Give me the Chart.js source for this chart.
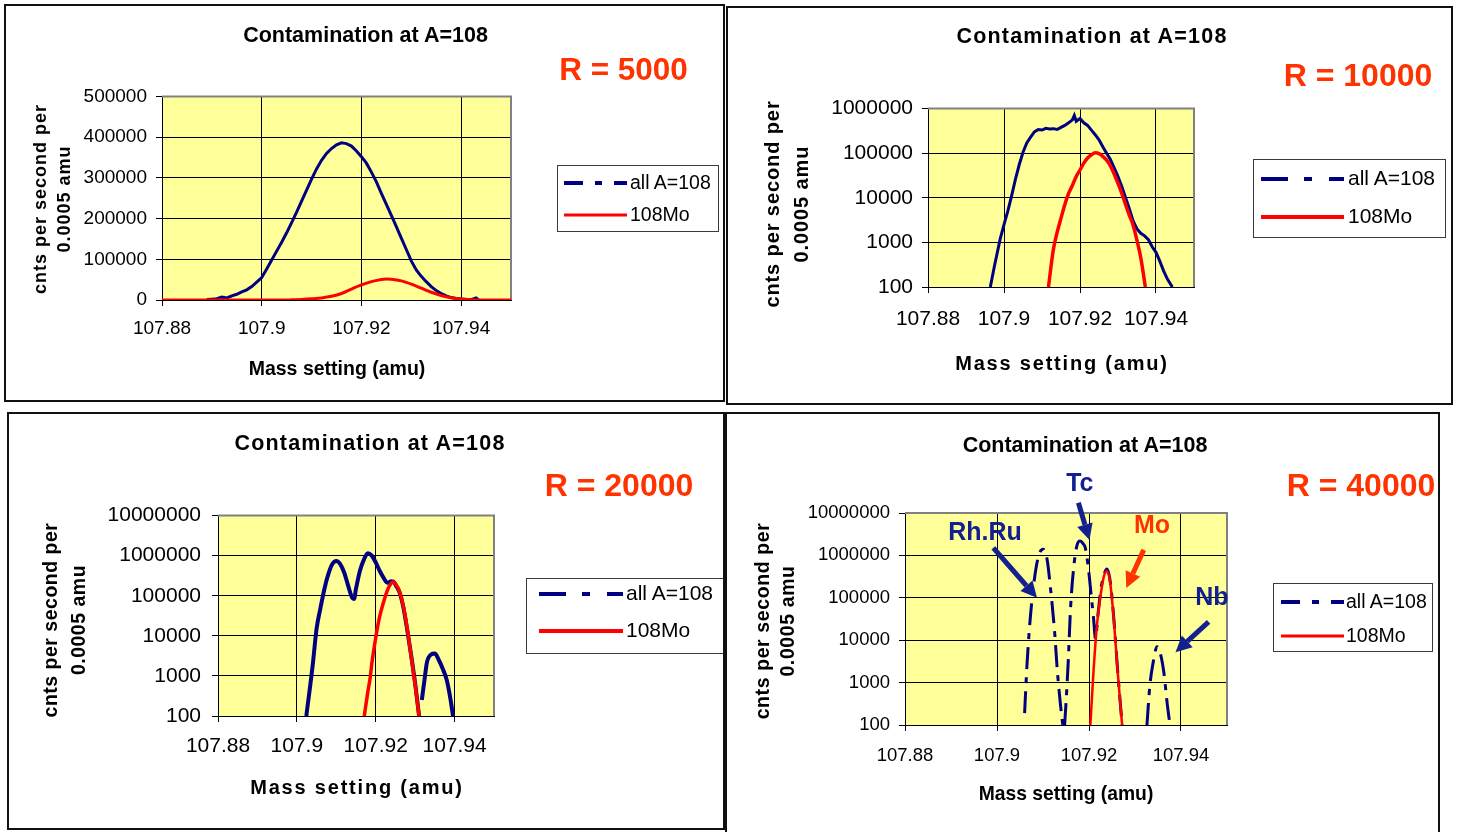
<!DOCTYPE html>
<html><head><meta charset="utf-8">
<script src="https://cdn.jsdelivr.net/npm/chart.js@4.4.1/dist/chart.umd.min.js"></script>
<style>
body{margin:0;background:#fff;width:1458px;height:832px;overflow:hidden;position:relative;font-family:"Liberation Sans",Arial,sans-serif}
.panel{position:absolute;border:2px solid #111;box-sizing:border-box;pointer-events:none}
.t{position:absolute;white-space:nowrap;transform:translate(-50%,-50%);font-weight:bold;color:#000}
.r{color:#FF3300}
.yt{position:absolute;white-space:nowrap;transform:translate(-50%,-50%) rotate(-90deg);font-weight:bold;text-align:center;color:#000}
.leg{position:absolute;border:1px solid #3a3a3a;background:#fff;box-sizing:border-box}
.lt{position:absolute;white-space:nowrap;transform:translateY(-50%);color:#000}
canvas{position:absolute}
</style></head><body>

<div class="leg" style="left:557px;top:165px;width:162px;height:67px"></div>
<div class="leg" style="left:1253px;top:159px;width:193px;height:79px"></div>
<div class="leg" style="left:526px;top:578px;width:201px;height:76px"></div>
<div class="leg" style="left:1273px;top:583px;width:160px;height:69px"></div>

<canvas id="c1"></canvas>
<canvas id="c2"></canvas>
<canvas id="c3"></canvas>
<canvas id="c4"></canvas>

<svg style="position:absolute;left:0;top:0" width="1458" height="832">
  <line x1="564" y1="183" x2="627" y2="183" stroke="#000080" stroke-width="4" stroke-dasharray="19 12 7 12"/>
  <line x1="564" y1="215" x2="627" y2="215" stroke="#FF0000" stroke-width="3"/>
  <line x1="1261" y1="179" x2="1344" y2="179" stroke="#000080" stroke-width="4" stroke-dasharray="27 16 8 17"/>
  <line x1="1261" y1="217" x2="1344" y2="217" stroke="#FF0000" stroke-width="4"/>
  <line x1="539" y1="594" x2="623" y2="594" stroke="#000080" stroke-width="4" stroke-dasharray="27 16 8 17"/>
  <line x1="539" y1="631" x2="623" y2="631" stroke="#FF0000" stroke-width="4"/>
  <line x1="1281" y1="602" x2="1344" y2="602" stroke="#000080" stroke-width="4" stroke-dasharray="19 12 7 12"/>
  <line x1="1281" y1="636" x2="1344" y2="636" stroke="#FF0000" stroke-width="3"/>
</svg>

<div class="lt" style="left:630px;top:182px;font-size:19.5px">all A=108</div>
<div class="lt" style="left:630px;top:214px;font-size:19.5px">108Mo</div>
<div class="lt" style="left:1348px;top:178px;font-size:21px">all A=108</div>
<div class="lt" style="left:1348px;top:216px;font-size:21px">108Mo</div>
<div class="lt" style="left:626px;top:593px;font-size:21px">all A=108</div>
<div class="lt" style="left:626px;top:630px;font-size:21px">108Mo</div>
<div class="lt" style="left:1346px;top:601px;font-size:19.5px">all A=108</div>
<div class="lt" style="left:1346px;top:635px;font-size:19.5px">108Mo</div>

<div class="t" style="left:365.5px;top:34.5px;font-size:21.5px">Contamination at A=108</div>
<div class="t" style="left:1092px;top:36px;font-size:21.5px;letter-spacing:1.2px">Contamination at A=108</div>
<div class="t" style="left:370px;top:442.5px;font-size:21.5px;letter-spacing:1.2px">Contamination at A=108</div>
<div class="t" style="left:1085px;top:445px;font-size:21.5px">Contamination at A=108</div>

<div class="t r" style="left:623.5px;top:68.5px;font-size:31.5px">R = 5000</div>
<div class="t r" style="left:1358px;top:74.5px;font-size:32px">R = 10000</div>
<div class="t r" style="left:619px;top:485px;font-size:32px">R = 20000</div>
<div class="t r" style="left:1361px;top:485px;font-size:32px">R = 40000</div>

<div class="t" style="left:337px;top:368px;font-size:19.5px">Mass setting (amu)</div>
<div class="t" style="left:1062px;top:363px;font-size:20px;letter-spacing:1.8px">Mass setting (amu)</div>
<div class="t" style="left:357px;top:786.5px;font-size:20px;letter-spacing:1.8px">Mass setting (amu)</div>
<div class="t" style="left:1066px;top:794px;font-size:19.3px">Mass setting (amu)</div>

<div class="yt" style="left:51.5px;top:199px;font-size:18px;letter-spacing:1px;line-height:24px">cnts per second per<br>0.0005 amu</div>
<div class="yt" style="left:787px;top:204px;font-size:20px;letter-spacing:0.9px;line-height:29px">cnts per second per<br>0.0005 amu</div>
<div class="yt" style="left:64px;top:620px;font-size:19.5px;letter-spacing:0.5px;line-height:28px">cnts per second per<br>0.0005 amu</div>
<div class="yt" style="left:774.5px;top:621px;font-size:19.5px;letter-spacing:0.6px;line-height:25px">cnts per second per<br>0.0005 amu</div>

<div class="panel" style="left:4px;top:4px;width:721px;height:398px"></div>
<div class="panel" style="left:726px;top:6px;width:727px;height:399px"></div>
<div class="panel" style="left:7px;top:412px;width:718px;height:418px"></div>
<div class="panel" style="left:725px;top:412px;width:715px;height:430px"></div>

<script>
// ---------- tick values / labels ----------
const xTickValues = [107.88, 107.9, 107.92, 107.94];
const xTickLabels = ['107.88', '107.9', '107.92', '107.94'];
const linTickValues = [0, 100000, 200000, 300000, 400000, 500000];
const linTickLabels = ['0', '100000', '200000', '300000', '400000', '500000'];
const log6TickValues = [100, 1000, 10000, 100000, 1000000];
const log6TickLabels = ['100', '1000', '10000', '100000', '1000000'];
const log7TickValues = [100, 1000, 10000, 100000, 1000000, 10000000];
const log7TickLabels = ['100', '1000', '10000', '100000', '1000000', '10000000'];

// ---------- R = 5000 ----------
const p1AllX = [107.889,107.890,107.891,107.892,107.893,107.894,107.895,107.896,107.897,107.898,107.899,107.900,107.901,107.902,107.903,107.904,107.905,107.906,107.907,107.908,107.909,107.910,107.911,107.912,107.913,107.914,107.915,107.916,107.917,107.918,107.919,107.920,107.921,107.922,107.923,107.924,107.925,107.926,107.927,107.928,107.929,107.930,107.931,107.932,107.933,107.934,107.935,107.936,107.937,107.938,107.939,107.940,107.941,107.942,107.943,107.9435];
const p1AllY = [1000,2000,3000,7000,5000,10000,14000,20000,25000,33000,44000,55000,76000,98000,120000,142000,165000,190000,216000,243000,270000,297000,322000,343000,360000,372000,381000,386000,384000,378000,366000,352000,336000,314000,290000,262000,235000,208000,180000,152000,124000,96000,74000,58000,45000,33000,23000,16000,10000,6000,4000,2500,1500,800,5000,0];
const p1MoX = [107.880,107.905,107.906,107.908,107.910,107.912,107.914,107.916,107.918,107.920,107.922,107.924,107.925,107.926,107.928,107.930,107.932,107.934,107.936,107.938,107.940,107.942,107.944,107.950];
const p1MoY = [0,0,500,1500,3000,5000,9000,16000,27000,37000,45000,50500,51500,51000,47000,39000,29000,19000,11000,5500,2200,700,0,0];

// ---------- R = 10000 ----------
const p2AllX = [107.8964,107.8975,107.899,107.900,107.901,107.902,107.903,107.904,107.905,107.906,107.907,107.908,107.909,107.910,107.911,107.912,107.913,107.914,107.915,107.916,107.917,107.918,107.9185,107.919,107.920,107.921,107.922,107.923,107.924,107.925,107.926,107.927,107.928,107.929,107.930,107.931,107.932,107.933,107.934,107.935,107.936,107.937,107.938,107.939,107.940,107.941,107.942,107.943,107.9443];
const p2AllY = [100,300,1200,2500,5000,11000,26000,55000,105000,170000,230000,300000,340000,330000,360000,350000,355000,340000,380000,420000,480000,560000,700000,520000,600000,480000,420000,330000,260000,200000,140000,100000,72000,47000,30000,18000,10000,5600,3000,2000,1600,1400,1150,800,600,380,230,150,100];
const p2MoX = [107.9117,107.913,107.914,107.915,107.916,107.917,107.918,107.919,107.920,107.921,107.922,107.923,107.924,107.925,107.926,107.927,107.928,107.929,107.930,107.931,107.932,107.933,107.934,107.935,107.936,107.9372];
const p2MoY = [100,700,1700,3500,7000,12500,19000,30000,42000,60000,78000,92000,102000,98000,85000,70000,52000,34000,21000,12500,7000,4000,2400,1100,450,100];

// ---------- R = 20000 ----------
const p3AllX = [107.9024,107.904,107.905,107.906,107.907,107.908,107.909,107.910,107.911,107.912,107.913,107.914,107.9145,107.915,107.916,107.917,107.918,107.919,107.920,107.921,107.922,107.923,107.924,107.9248,107.925,107.926,107.927,107.928,107.929,107.930,107.931,107.9313,107.9317,107.9325,107.933,107.934,107.935,107.936,107.937,107.938,107.939,107.9396];
const p3AllY = [100,1800,15000,50000,150000,350000,620000,740000,620000,380000,180000,90000,83000,150000,420000,800000,1150000,1000000,680000,420000,280000,210000,230000,210000,190000,125000,52000,14000,3200,650,100,null,250,1000,2200,3400,3600,2500,1500,800,250,100];
const p3MoX = [107.9171,107.918,107.9186,107.919,107.920,107.921,107.922,107.923,107.924,107.9245,107.925,107.926,107.927,107.928,107.929,107.930,107.931];
const p3MoY = [100,400,910,2000,9000,30000,70000,140000,210000,220000,200000,130000,55000,15000,3000,600,100];

// ---------- R = 40000 ----------
const p4AllX = [107.906,107.9065,107.9072,107.9081,107.909,107.910,107.9109,107.9116,107.9125,107.9131,107.9138,107.9143,107.9145,107.9147,107.915,107.9155,107.916,107.9167,107.9174,107.9181,107.9187,107.9192,107.9199,107.9205,107.921,107.9214,107.922,107.9226,107.9232,107.9239,107.9246,107.9254,107.9262,107.9272,107.930,107.9326,107.9332,107.9339,107.9348,107.9355,107.9363,107.937,107.9376];
const p4AllY = [190,2400,30000,260000,940000,1400000,790000,180000,17000,2000,300,100,null,100,330,3400,60000,550000,1750000,2200000,1900000,1500000,460000,107000,32000,11000,45000,160000,330000,480000,250000,32000,2100,100,null,100,790,2800,7000,4900,1650,320,100];
const p4MoX = [107.9203,107.921,107.9217,107.9225,107.9232,107.9239,107.9246,107.9254,107.9262,107.9272];
const p4MoY = [100,2000,21000,110000,310000,430000,230000,30000,2000,100];

// ---------- annotations (data coordinates) for R = 40000 ----------
const annoText = ['Rh.Ru', 'Tc', 'Mo', 'Nb'];
const annoX = [107.8974, 107.918, 107.9337, 107.9467];
const annoY = [3.4e6, 4.7e7, 5.0e6, 1.0e5];
const arrowFromX = [107.8992, 107.9177, 107.9319, 107.946];
const arrowFromY = [1.5e6, 1.74e7, 1.35e6, 2.7e4];
const arrowToX = [107.9087, 107.9201, 107.9281, 107.9388];
const arrowToY = [1.0e5, 2.3e6, 1.7e5, 5.2e3];

const NAVY = '#000080', RED = '#FF0000', ORANGE = '#FF3300', ANNO_BLUE = '#13208f';
const annoColor = [ANNO_BLUE, ANNO_BLUE, ORANGE, ANNO_BLUE];
const FONT = '"Liberation Sans", Arial, sans-serif';

const pts = (xs, ys) => xs.map((x, i) => ({x: x, y: ys[i]}));

const areaPlugin = {
  id: 'plotArea',
  beforeDraw(chart) {
    const a = chart.chartArea, ctx = chart.ctx;
    ctx.save(); ctx.fillStyle = '#FFFF99';
    ctx.fillRect(a.left, a.top, a.right - a.left, a.bottom - a.top);
    ctx.restore();
  },
  beforeDatasetsDraw(chart) {
    const a = chart.chartArea, ctx = chart.ctx;
    ctx.save(); ctx.strokeStyle = '#808080'; ctx.lineWidth = 2;
    ctx.beginPath(); ctx.moveTo(a.left, a.top); ctx.lineTo(a.right, a.top); ctx.lineTo(a.right, a.bottom);
    ctx.stroke(); ctx.restore();
  }
};

const annoPlugin = {
  id: 'anno',
  afterDraw(chart) {
    const ctx = chart.ctx, xs = chart.scales.x, ys = chart.scales.y;
    ctx.save();
    for (let i = 0; i < arrowFromX.length; i++) {
      const x1 = xs.getPixelForValue(arrowFromX[i]), y1 = ys.getPixelForValue(arrowFromY[i]);
      const x2 = xs.getPixelForValue(arrowToX[i]), y2 = ys.getPixelForValue(arrowToY[i]);
      const ang = Math.atan2(y2 - y1, x2 - x1), hl = 16, hw = 8;
      const bx = x2 - hl * Math.cos(ang), by = y2 - hl * Math.sin(ang);
      ctx.strokeStyle = annoColor[i]; ctx.fillStyle = annoColor[i]; ctx.lineWidth = 5;
      ctx.beginPath(); ctx.moveTo(x1, y1); ctx.lineTo(bx, by); ctx.stroke();
      ctx.beginPath(); ctx.moveTo(x2, y2);
      ctx.lineTo(bx + hw * Math.sin(ang), by - hw * Math.cos(ang));
      ctx.lineTo(bx - hw * Math.sin(ang), by + hw * Math.cos(ang));
      ctx.closePath(); ctx.fill();
    }
    ctx.font = 'bold 25px ' + FONT; ctx.textAlign = 'center'; ctx.textBaseline = 'middle';
    for (let i = 0; i < annoText.length; i++) {
      ctx.fillStyle = annoColor[i];
      ctx.fillText(annoText[i], xs.getPixelForValue(annoX[i]), ys.getPixelForValue(annoY[i]));
    }
    ctx.restore();
  }
};

function build(id, g, datasets, ycfg, plugins) {
  const Wy = 130, Hx = 45;
  const cv = document.getElementById(id);
  const W = Wy + (g.R - g.L) + g.Pr, H = g.Pt + (g.B - g.T) + Hx;
  cv.width = W; cv.height = H;
  cv.style.width = W + 'px'; cv.style.height = H + 'px';
  cv.style.left = (g.L - Wy) + 'px'; cv.style.top = (g.T - g.Pt) + 'px';
  const tickFont = {family: FONT, size: g.fs};
  new Chart(cv, {
    type: 'line',
    data: {datasets: datasets},
    options: {
      responsive: false, animation: false, devicePixelRatio: 1,
      layout: {padding: {left: 0, top: g.Pt, right: g.Pr, bottom: 0}},
      plugins: {legend: {display: false}, tooltip: {enabled: false}, title: {display: false}},
      elements: {point: {radius: 0}},
      scales: {
        x: {
          type: 'linear', min: 107.88, max: 107.95,
          afterBuildTicks: s => { s.ticks = xTickValues.map(v => ({value: v})); },
          afterFit: s => { s.height = Hx; },
          ticks: {callback: (v, i) => xTickLabels[i], font: tickFont, color: '#000', padding: g.padX, maxRotation: 0, autoSkip: false},
          grid: {color: '#000', lineWidth: 1, tickLength: 6, drawTicks: true},
          border: {color: '#000', width: 1}
        },
        y: {
          type: ycfg.type, min: ycfg.min, max: ycfg.max,
          afterBuildTicks: s => { s.ticks = ycfg.vals.map(v => ({value: v})); },
          afterFit: s => { s.width = Wy; },
          ticks: {callback: (v, i) => ycfg.labels[i], font: tickFont, color: '#000', padding: g.padY, autoSkip: false},
          grid: {color: '#000', lineWidth: 1, tickLength: 6, drawTicks: true},
          border: {color: '#000', width: 1}
        }
      }
    },
    plugins: [areaPlugin].concat(plugins || [])
  });
}

function ds(xs, ys, color, width, order, extra) {
  return Object.assign({data: pts(xs, ys), borderColor: color, borderWidth: width, fill: false,
    pointRadius: 0, spanGaps: false, order: order, tension: 0}, extra || {});
}

build('c1', {L:162, T:96, R:511, B:300, Pt:20, Pr:20, fs:19, padX:11, padY:9},
  [ds(p1AllX, p1AllY, NAVY, 3, 2), ds(p1MoX, p1MoY, RED, 3, 1, {cubicInterpolationMode:'monotone'})],
  {type:'linear', min:0, max:500000, vals: linTickValues, labels: linTickLabels});

build('c2', {L:928, T:107, R:1194, B:287, Pt:20, Pr:20, fs:21, padX:14, padY:9},
  [ds(p2AllX, p2AllY, NAVY, 3, 2), ds(p2MoX, p2MoY, RED, 3.5, 1, {cubicInterpolationMode:'monotone'})],
  {type:'logarithmic', min:100, max:1000000, vals: log6TickValues, labels: log6TickLabels});

build('c3', {L:218, T:512, R:494, B:716, Pt:20, Pr:20, fs:21, padX:12, padY:11},
  [ds(p3AllX, p3AllY, NAVY, 4, 2, {cubicInterpolationMode:'monotone'}), ds(p3MoX, p3MoY, RED, 3.5, 1, {cubicInterpolationMode:'monotone'})],
  {type:'logarithmic', min:100, max:10000000, vals: log7TickValues, labels: log7TickLabels});

build('c4', {L:905, T:513, R:1227, B:725, Pt:60, Pr:25, fs:18.5, padX:14, padY:9},
  [ds(p4AllX, p4AllY, NAVY, 3, 2, {cubicInterpolationMode:'monotone', borderDash:[22, 8, 6, 8]}),
   ds(p4MoX, p4MoY, RED, 2.5, 1, {cubicInterpolationMode:'monotone'})],
  {type:'logarithmic', min:100, max:10000000, vals: log7TickValues, labels: log7TickLabels}, [annoPlugin]);
</script>
</body></html>
